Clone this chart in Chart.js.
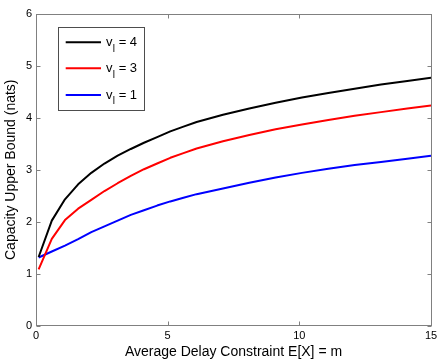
<!DOCTYPE html>
<html><head><meta charset="utf-8">
<script src="https://cdn.jsdelivr.net/npm/chart.js@4"></script>
<style>html,body{margin:0;padding:0;background:#fff}</style>
</head><body>
<canvas id="c" width="443" height="363"></canvas>
<script>
const xValues = [0.1,0.6,1.1,1.6,2.1,2.6,3.1,3.6,4.1,4.6,5.1,5.6,6.1,7.1,8.1,9.1,10.1,11.1,12.1,13.1,14.1,15];
const vl4 = [1.32,2.02,2.43,2.72,2.94,3.12,3.27,3.40,3.52,3.63,3.74,3.83,3.92,4.06,4.18,4.29,4.39,4.48,4.56,4.64,4.71,4.77];
const vl3 = [1.08,1.67,2.03,2.25,2.42,2.59,2.74,2.88,3.01,3.12,3.23,3.32,3.41,3.55,3.67,3.78,3.87,3.96,4.04,4.11,4.18,4.24];
const vl1 = [1.31,1.425,1.54,1.665,1.80,1.91,2.02,2.13,2.22,2.31,2.39,2.46,2.53,2.64,2.75,2.85,2.94,3.02,3.09,3.15,3.21,3.27];
const seriesNames = ['4','3','1'];
const seriesColors = ['#000000','#ff0000','#0000ff'];
const xTicks = [0,5,10,15];
const yTicks = [0,1,2,3,4,5,6];
const xTitle = 'Average Delay Constraint E[X] = m';
const yTitle = 'Capacity Upper Bound (nats)';

const toPts = arr => arr.map((v,i)=>({x:xValues[i], y:v}));
const FONT = '"Liberation Sans", Arial, Helvetica, sans-serif';

const frame = {
  id:'frame',
  afterDatasetsDraw(chart){
    const {ctx, chartArea:a, scales:{x,y}} = chart;
    ctx.save();
    ctx.strokeStyle='#808080'; ctx.lineWidth=1;
    const L=Math.round(a.left)+0.5, R=Math.round(a.right)+0.5, T=Math.round(a.top)+0.5, B=Math.floor(a.bottom)+0.5;
    ctx.strokeRect(L,T,R-L,B-T);
    ctx.beginPath();
    xTicks.forEach(v=>{const p=Math.round(x.getPixelForValue(v))+0.5; ctx.moveTo(p,B); ctx.lineTo(p,B-4); ctx.moveTo(p,T); ctx.lineTo(p,T+4);});
    yTicks.forEach(v=>{const p=Math.round(y.getPixelForValue(v))+0.5; ctx.moveTo(L,p); ctx.lineTo(L+4,p); ctx.moveTo(R,p); ctx.lineTo(R-4,p);});
    ctx.stroke();
    ctx.restore();
  }
};

const legendBox = {
  id:'legendBox',
  afterDraw(chart){
    const {ctx, chartArea:a} = chart;
    ctx.save();
    const bx=Math.round(a.left+22)+0.5, by=Math.round(a.top+12.7)+0.5, bw=86, bh=83;
    ctx.fillStyle='#fff'; ctx.fillRect(bx,by,bw,bh);
    ctx.strokeStyle='#4d4d4d'; ctx.lineWidth=1; ctx.strokeRect(bx,by,bw,bh);
    const rows=[a.top+28.3, a.top+54.3, a.top+81];
    chart.data.datasets.forEach((ds,i)=>{
      const yy=rows[i];
      ctx.strokeStyle=ds.borderColor; ctx.lineWidth=2;
      ctx.beginPath(); ctx.moveTo(a.left+29.7,yy); ctx.lineTo(a.left+65,yy); ctx.stroke();
      ctx.fillStyle='#000'; ctx.textAlign='left'; ctx.textBaseline='alphabetic';
      let tx=a.left+70;
      ctx.font='13px '+FONT;
      ctx.fillText('v',tx,yy+3.8); tx+=ctx.measureText('v').width+0.3;
      ctx.font='10px '+FONT;
      ctx.fillText('l',tx,yy+9.4); tx+=ctx.measureText('l').width;
      ctx.font='13px '+FONT;
      ctx.fillText(' = '+seriesNames[i],tx,yy+3.8);
    });
    ctx.restore();
  }
};

new Chart(document.getElementById('c'),{
  type:'line',
  data:{datasets:[
    {label:'v_l = '+seriesNames[0], data:toPts(vl4), borderColor:seriesColors[0]},
    {label:'v_l = '+seriesNames[1], data:toPts(vl3), borderColor:seriesColors[1]},
    {label:'v_l = '+seriesNames[2], data:toPts(vl1), borderColor:seriesColors[2]}
  ]},
  options:{
    responsive:false, animation:false,
    elements:{line:{borderWidth:2, tension:0, fill:false, borderJoinStyle:'round'}, point:{radius:0}},
    layout:{padding:{top:14,right:12,left:0,bottom:0}},
    plugins:{legend:{display:false}, tooltip:{enabled:false}},
    scales:{
      x:{type:'linear', min:0, max:15,
        afterBuildTicks:s=>{s.ticks=xTicks.map(v=>({value:v}));},
        afterFit:s=>{s.height=37.5;},
        grid:{display:false, drawTicks:false}, border:{display:false},
        ticks:{padding:4, color:'#000', font:{family:FONT,size:11}, maxRotation:0},
        title:{display:true, text:xTitle, color:'#000', font:{family:FONT,size:14}, padding:{top:0,bottom:2}}
      },
      y:{type:'linear', min:0, max:6,
        afterBuildTicks:s=>{s.ticks=yTicks.map(v=>({value:v}));},
        afterFit:s=>{s.width=36;},
        grid:{display:false, drawTicks:false}, border:{display:false},
        ticks:{padding:4, color:'#000', font:{family:FONT,size:11}},
        title:{display:true, text:yTitle, color:'#000', font:{family:FONT,size:14}, padding:{top:3,bottom:0}}
      }
    }
  },
  plugins:[frame, legendBox]
});
</script>
</body></html>
